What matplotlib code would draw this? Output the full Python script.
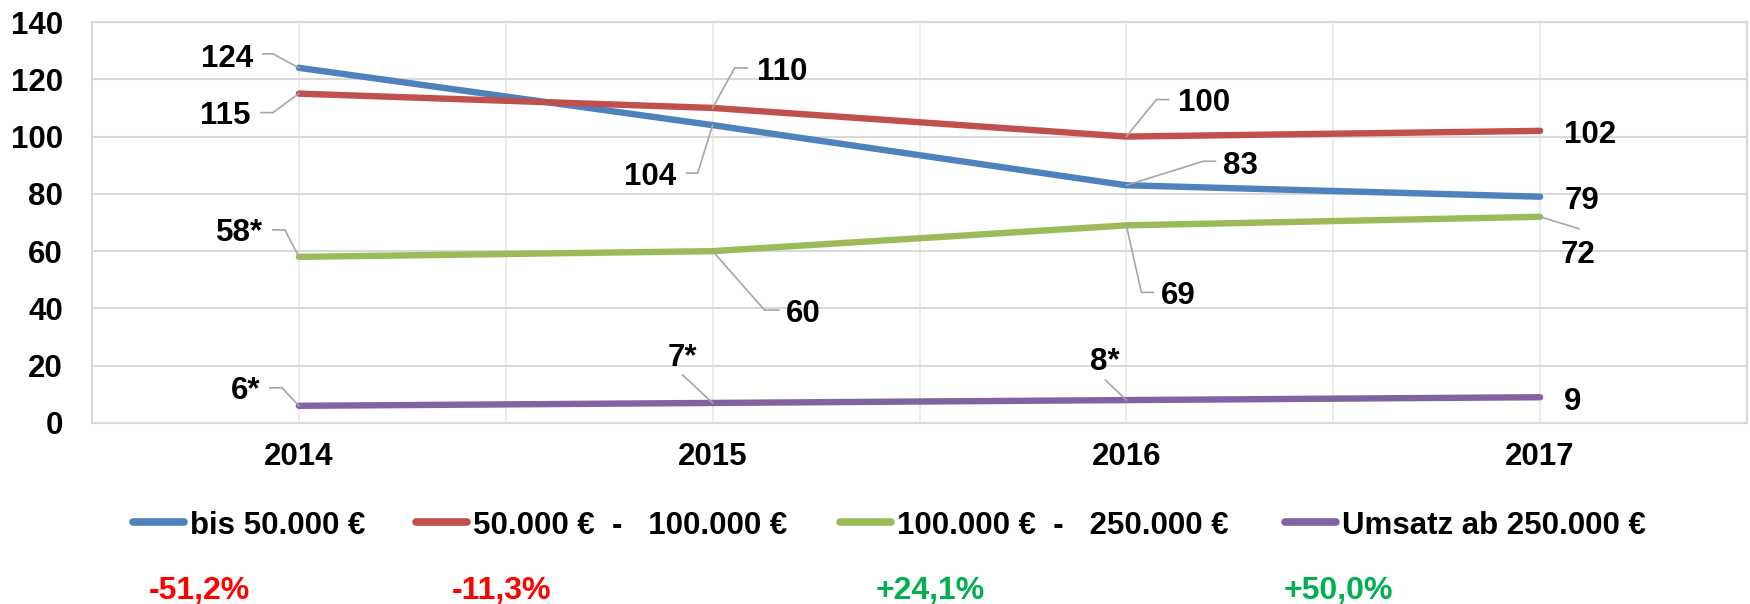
import matplotlib
matplotlib.use("Agg")
import matplotlib.pyplot as plt
import matplotlib.transforms as mtransforms
from matplotlib.lines import Line2D

plt.rcParams["font.family"] = ["Liberation Sans", "DejaVu Sans"]
plt.rcParams["font.weight"] = "bold"

# ── data ──────────────────────────────────────────────────────────────────────
years = ["2014", "2015", "2016", "2017"]
series_names = ["bis 50.000 €", "50.000 €  -   100.000 €",
                "100.000 €  -   250.000 €", "Umsatz ab 250.000 €"]
bis_50k = [124, 104, 83, 79]
von_50k_100k = [115, 110, 100, 102]
von_100k_250k = [58, 60, 69, 72]
ab_250k = [6, 7, 8, 9]
labels_bis_50k = ["124", "104", "83", "79"]
labels_50k_100k = ["115", "110", "100", "102"]
labels_100k_250k = ["58*", "60", "69", "72"]
labels_ab_250k = ["6*", "7*", "8*", "9"]
changes = ["-51,2%", "-11,3%", "+24,1%", "+50,0%"]

COLORS = ["#4F81BD", "#C0504D", "#9BBB59", "#8064A2"]
CHANGE_COLORS = ["#FF0000", "#FF0000", "#00B050", "#00B050"]

# label placement in pixels relative to the point (dx right, dy down),
# plus leader line vertices (same convention)
PLACEMENT = [
    [("right", -46, -12, [(-36, -14), (-26, -14), (0, 0)]),
     ("right", -36, 48, [(-26, 48), (-15, 48), (0, 0)]),
     ("left", 97, -23, [(89, -24), (77, -24), (0, 0)]),
     ("left", 24, 1, None)],
    [("right", -48, 19, [(-38, 19), (-26, 19), (0, 0)]),
     ("left", 44, -39, [(35, -40), (22, -40), (0, 0)]),
     ("left", 52, -37, [(42, -37), (30, -37), (0, 0)]),
     ("left", 24, 1, None)],
    [("right", -36, -27, [(-26, -27), (-14, -27), (0, 0)]),
     ("left", 73, 59, [(66, 59), (52, 59), (0, 0)]),
     ("left", 35, 67, [(27, 67), (15, 67), (0, 0)]),
     ("left", 21, 35, [(39, 12), (0, 0)])],
    [("right", -39, -18, [(-29, -18), (-17, -18), (0, 0)]),
     ("center", -30, -48, [(-30, -28), (0, 0)]),
     ("center", -22, -42, [(-21, -20), (0, 0)]),
     ("left", 24, 1, None)],
]

W, H = 1750, 604
FS = 22.5

fig = plt.figure(figsize=(W / 100, H / 100), dpi=100)
ax = fig.add_axes([92 / W, (H - 423) / H, 1655 / W, 401 / H])

values = [bis_50k, von_50k_100k, von_100k_250k, ab_250k]
labels = [labels_bis_50k, labels_50k_100k, labels_100k_250k, labels_ab_250k]
x = list(range(len(years)))

for vals, color in zip(values, COLORS):
    ax.plot(x, vals, color=color, lw=4.6, solid_capstyle="round",
            solid_joinstyle="round", zorder=3)

ax.set_xlim(-0.5, 3.5)
ax.set_ylim(0, 140)
ax.set_yticks(range(0, 141, 20))
ax.set_xticks(x)
ax.set_xticklabels(years)
ax.set_xticks([0.5, 1.5, 2.5], minor=True)
ax.tick_params(axis="both", which="both", length=0)
ax.tick_params(axis="both", labelsize=FS)
ax.tick_params(axis="y", pad=21)
ax.tick_params(axis="x", pad=14)
for lab in ax.get_xticklabels() + ax.get_yticklabels():
    lab.set_fontweight("bold")
ax.grid(axis="y", color="#D9D9D9", lw=1.5, zorder=0)
ax.grid(axis="x", which="both", color="#EBEBEB", lw=1.3, zorder=0)
for sp in ax.spines.values():
    sp.set_color("#D9D9D9")
    sp.set_linewidth(1.5)

# data labels with leader lines
ident = mtransforms.IdentityTransform()
for vals, labs, places in zip(values, labels, PLACEMENT):
    for i, (v, txt, pl) in enumerate(zip(vals, labs, places)):
        ha, dx, dy, leader = pl
        ax.annotate(txt, xy=(i, v), xytext=(dx, -dy), textcoords="offset pixels",
                    ha=ha, va="center_baseline", fontsize=FS, fontweight="bold",
                    color="black", zorder=5)
        if leader:
            px, py = ax.transData.transform((i, v))
            xs = [px + a for a, b in leader]
            ys = [py - b for a, b in leader]
            fig.add_artist(Line2D(xs, ys, color="#A6A6A6", lw=1.2,
                                  transform=ident, zorder=4))

# legend drawn by hand to match the layout
handle_x = [130, 413, 837, 1282]
leg_y = H - 522
for hx, name, color in zip(handle_x, series_names, COLORS):
    fig.add_artist(Line2D([hx + 3, hx + 54], [leg_y, leg_y], color=color, lw=5.5,
                          solid_capstyle="round", transform=ident))
    fig.text((hx + 60) / W, leg_y / H, name, ha="left", va="center_baseline",
             fontsize=FS, fontweight="bold", color="black")

# change percentages
change_x = [149, 452, 876, 1284]
for cx, txt, color in zip(change_x, changes, CHANGE_COLORS):
    fig.text(cx / W, 5 / H, txt, ha="left", va="baseline",
             fontsize=23, fontweight="bold", color=color)

fig.savefig("out.png", dpi=100)
